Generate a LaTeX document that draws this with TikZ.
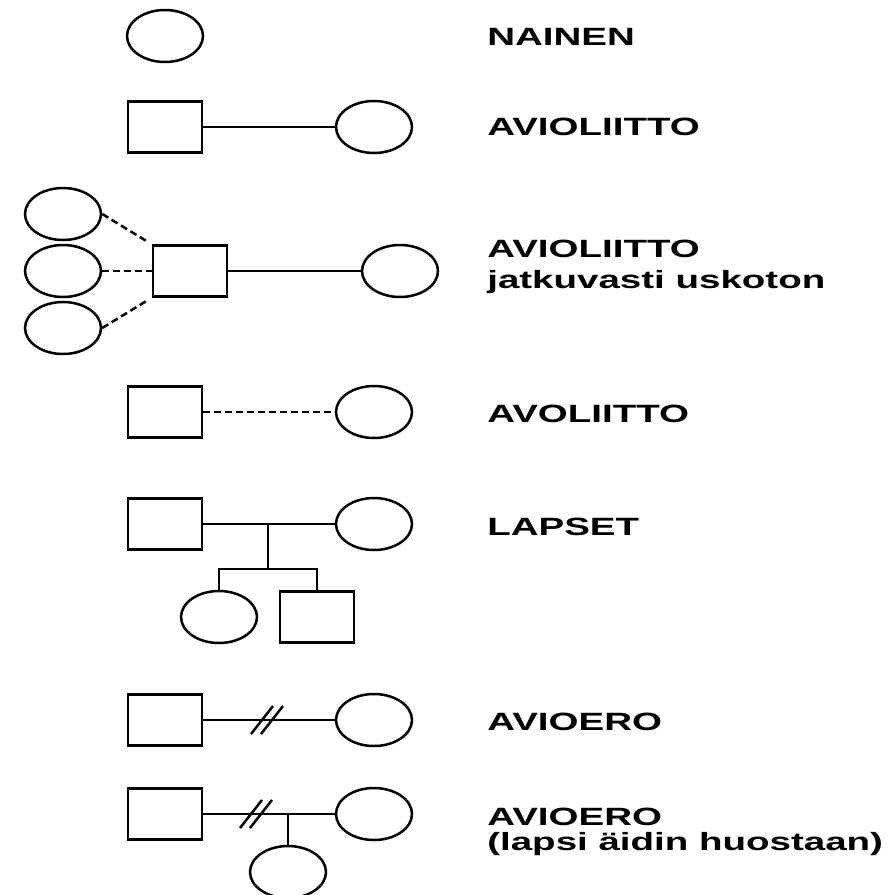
\documentclass[tikz,border=0pt]{standalone}
\usepackage{fontspec}
\setmainfont{Liberation Sans}
\usetikzlibrary{shapes.geometric}
\tikzset{
  nainen/.style={draw, ellipse, line width=2.5pt, minimum width=76pt, minimum height=52pt, inner sep=0pt},
  mies/.style={draw, rectangle, line width=2.5pt, minimum width=74pt, minimum height=51pt, inner sep=0pt},
  suhde/.style={line width=2.5pt},
  avo/.style={line width=2.5pt, dash pattern=on 7pt off 4pt},
  selite/.style={anchor=base west, inner sep=0pt, xscale=1.54, font=\bfseries\fontsize{25}{30}\selectfont},
}
\begin{document}
\begin{tikzpicture}[x=1pt, y=-1pt]
            \useasboundingbox (0,0) rectangle (890,895);
            % nainen
            \node[nainen] (n1) at (165,36) {};
            \node[selite] (t1) at (487,45) {NAINEN};
            % avioliitto
            \node[mies] (m2) at (165,127) {};
            \node[nainen] (n2) at (374,127) {};
            \draw[suhde] (m2) -- (n2);
            \node[selite] (t2) at (487,135) {AVIOLIITTO};
            % uskoton
            \node[mies] (m3) at (190,271) {};
            \node[nainen] (n3) at (400,271) {};
            \node[nainen] (r1) at (63,214) {};
            \node[nainen] (r2) at (63,271) {};
            \node[nainen] (r3) at (63,328) {};
            \draw[suhde] (m3) -- (n3);
            \draw[avo, shorten >=6pt] (r1.east) -- (m3.north west);
            \draw[avo] (r2.east) -- (m3.west);
            \draw[avo, shorten >=6pt] (r3.east) -- (m3.south west);
            \node[selite] (t3) at (487,257) {AVIOLIITTO};
            \node[selite] (t3b) at (487,288) {jatkuvasti uskoton};
            % avoliitto
            \node[mies] (m4) at (165,412) {};
            \node[nainen] (n4) at (374,412) {};
            \draw[avo] (m4) -- (n4);
            \node[selite] (t4) at (487,422) {AVOLIITTO};
            % lapset
            \node[mies] (m5) at (165,524) {};
            \node[nainen] (n5) at (374,524) {};
            \node[nainen] (l5a) at (219,617) {};
            \node[mies] (l5b) at (317,617) {};
            \coordinate (k5) at (268,569);
            \draw[suhde] (m5) -- (n5);
            \draw[suhde] (k5 |- m5) -- (k5);
            \draw[suhde] (l5a.north) |- (k5) -| (l5b.north);
            \node[selite] (t5) at (487,535) {LAPSET};
            % avioero
            \node[mies] (m6) at (165,720) {};
            \node[nainen] (n6) at (374,720) {};
            \coordinate (e6) at (267,720);
            \draw[suhde] (m6) -- (n6);
            \foreach \dx in {-5,5}
                \draw[suhde] ([xshift=\dx pt]e6) ++(-11,14) -- ++(22,-28);
            \node[selite] (t6) at (487,730) {AVIOERO};
            % avioero, lapsi
            \node[mies] (m7) at (165,814) {};
            \node[nainen] (n7) at (374,814) {};
            \node[nainen] (l7) at (288,872) {};
            \coordinate (e7) at (256,814);
            \draw[suhde] (m7) -- (n7);
            \draw[suhde] (l7 |- m7) -- (l7);
            \foreach \dx in {-5,5}
                \draw[suhde] ([xshift=\dx pt]e7) ++(-11,14) -- ++(22,-28);
            \node[selite] (t7) at (487,825) {AVIOERO};
            \node[selite] (t7b) at (487,850) {(lapsi äidin huostaan)};
        \end{tikzpicture}
\end{document}
